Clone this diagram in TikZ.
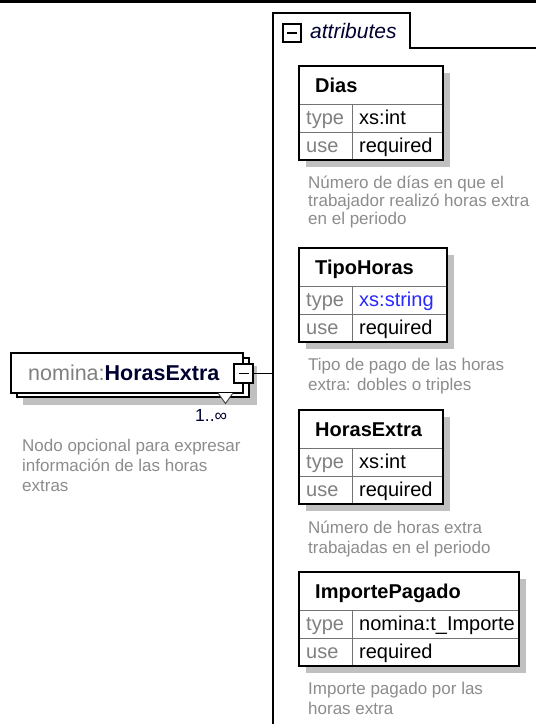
\documentclass[tikz,border=0pt]{standalone}
\usepackage{fontspec}
\setmainfont{Liberation Sans}
\definecolor{shadowgray}{RGB}{192,192,192}
\definecolor{descgray}{RGB}{140,140,140}
\definecolor{lblgray}{RGB}{128,128,128}
\definecolor{typeblue}{RGB}{40,40,255}
\definecolor{navy}{RGB}{0,0,48}
\newcommand\attrbox[7]{%
  \fill[shadowfill] (#2+7,#3+7) rectangle (#2+#4+7,#3+101);
  \node[boxframe, anchor=north west, minimum width=#4pt, minimum height=94pt] (#1) at (#2,#3) {};
  \draw[sepline] (#2,#3+38) -- (#2+#4,#3+38);
  \draw[sepline] (#2,#3+66) -- (#2+#4,#3+66);
  \draw[sepline] (#2+53,#3+38) -- (#2+53,#3+94);
  \draw[line width=1.5pt] (#1.north west) rectangle (#1.south east);
  \node[attrtitle] (#1-t) at (#2+16,#3+26) {#5};
  \node[lbltext] (#1-tl) at (#2+7,#3+58) {type};
  \node[valtext] (#1-tv) at (#2+60,#3+58) {#6};
  \node[lbltext] (#1-ul) at (#2+7,#3+86) {use};
  \node[valtext] (#1-uv) at (#2+60,#3+86) {#7};
}
\begin{document}
\begin{tikzpicture}[x=1pt,y=-1pt,
  boxframe/.style={draw=black, line width=1.5pt, fill=white, inner sep=0pt, outer sep=0pt},
  sepline/.style={draw=black!55, line width=1pt},
  attrtitle/.style={font=\fontsize{20}{24}\selectfont\bfseries, anchor=base west, inner sep=0pt},
  lbltext/.style={font=\fontsize{20}{24}\selectfont, text=lblgray, anchor=base west, inner sep=0pt},
  valtext/.style={font=\fontsize{20}{24}\selectfont, anchor=base west, inner sep=0pt},
  desctext/.style={font=\fontsize{17}{20}\selectfont, text=descgray, anchor=base west, inner sep=0pt},
  shadowfill/.style={fill=shadowgray},
  minusbox/.style={draw=black, line width=2.6pt, fill=white, minimum size=18pt, inner sep=0pt, outer sep=0pt},
]
\useasboundingbox (0,0) rectangle (536,724);
\fill[black] (0,0) rectangle (536,3);
% container
\coordinate (ctop) at (273,13);
\coordinate (cbot) at (273,724);
\coordinate (tabr) at (410,13);
\coordinate (tabb) at (410,48);
\coordinate (cright) at (536,48);
\draw[line width=1.5pt] (cbot) -- (ctop) -- (tabr) -- (tabb) -- (cright);
\node[minusbox] (tabminus) at (292,33) {};
\draw[line width=1.6pt] (287,33) -- (297,33);
\node[anchor=base west, inner sep=0pt, font=\fontsize{21}{25}\selectfont\itshape, text=navy] (attrlabel) at (310,38) {attributes};
% main element
\fill[shadowfill] (23,366) rectangle (257,405);
\draw[line width=1.3pt, fill=white] (17,358) rectangle (249,397);
\node[boxframe, anchor=north west, minimum width=232pt, minimum height=40pt] (main) at (11,353) {};
\draw[black!75, line width=0.9pt, fill=white] (218,393) -- (225.5,403.5) -- (233,393);
\node[anchor=base west, inner sep=0pt, font=\fontsize{21.5}{26}\selectfont] (maintext) at (28,380) {\textcolor{lblgray}{nomina:}\textcolor{navy}{\bfseries HorasExtra}};
\node[minusbox, minimum size=19pt] (mainminus) at (243.5,373.5) {};
\draw[line width=1.6pt] (238.5,373.5) -- (248.5,373.5);
\coordinate (cjoin) at (273,373.5);
\draw[line width=1.3pt] (mainminus.east) -- (cjoin);
\node[anchor=base west, inner sep=0pt, font=\fontsize{17.5}{20}\selectfont, text=navy] (mult) at (195,421) {1..∞};
\node[desctext] (md1) at (22,451) {Nodo opcional para expresar};
\node[desctext] (md2) at (22,471) {información de las horas};
\node[desctext] (md3) at (22,491) {extras};
% attributes
\attrbox{dias}{299}{66}{144}{Dias}{xs:int}{required}
\node[desctext] (dd1) at (308,188) {Número de días en que el};
\node[desctext] (dd2) at (308,206) {trabajador realizó horas extra};
\node[desctext] (dd3) at (308,224) {en el periodo};
\attrbox{tipo}{299}{248}{148}{TipoHoras}{\textcolor{typeblue}{xs:string}}{required}
\node[desctext] (td1) at (308,370) {Tipo de pago de las horas};
\node[desctext] (td2) at (308,390) {extra: dobles o triples};
\attrbox{horas}{299}{410}{144}{HorasExtra}{xs:int}{required}
\node[desctext] (hd1) at (308,533) {Número de horas extra};
\node[desctext] (hd2) at (308,553) {trabajadas en el periodo};
\attrbox{importe}{299}{572}{220}{ImportePagado}{nomina:t\_Importe}{required}
\node[desctext] (id1) at (308,694) {Importe pagado por las};
\node[desctext] (id2) at (308,714) {horas extra};
\end{tikzpicture}
\end{document}
